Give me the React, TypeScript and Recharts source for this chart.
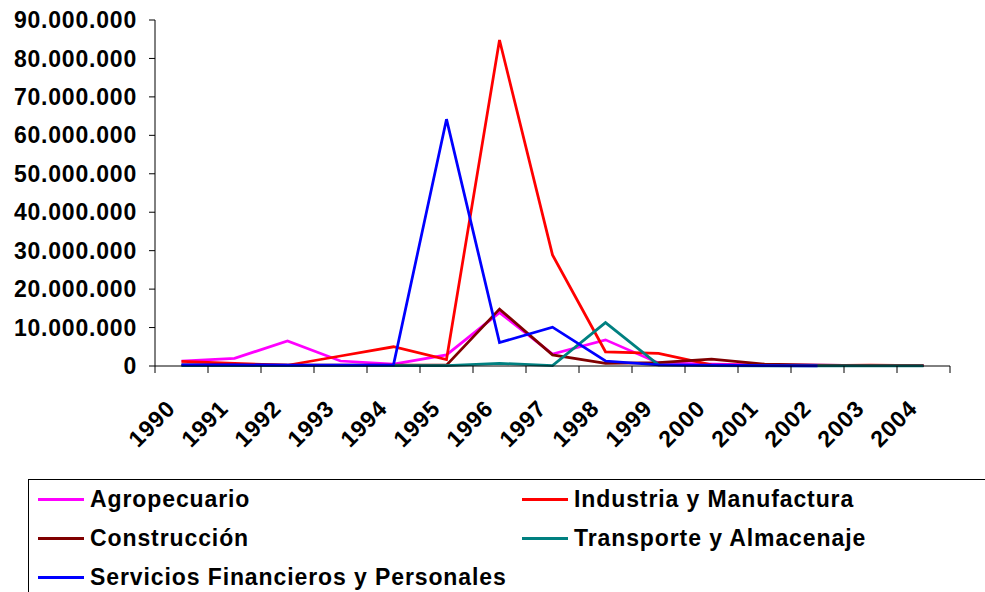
import React from 'react';
import { LineChart, Line, XAxis, YAxis } from 'recharts';

const years = ['1990', '1991', '1992', '1993', '1994', '1995', '1996', '1997', '1998', '1999', '2000', '2001', '2002', '2003', '2004'];

const agropecuario = [1300000, 2000000, 6500000, 1300000, 500000, 2900000, 13900000, 3100000, 6800000, 800000, 500000, 300000, 200000, 100000, 100000];
const industria = [1200000, 700000, 200000, 2600000, 5000000, 1700000, 84800000, 28900000, 3700000, 3300000, 300000, 200000, 100000, 200000, 100000];
const construccion = [300000, 300000, 200000, 200000, 200000, 200000, 14800000, 2900000, 700000, 900000, 1800000, 500000, 200000, 100000, 100000];
const transporte = [100000, 100000, 100000, 100000, 100000, 100000, 700000, 100000, 11300000, 300000, 100000, 50000, 50000, 50000, 50000];
const servicios = [300000, 300000, 200000, 200000, 300000, 64200000, 6100000, 10100000, 1300000, 300000, 200000, 100000, 50000, null, null];

const yTicks = [0, 10000000, 20000000, 30000000, 40000000, 50000000, 60000000, 70000000, 80000000, 90000000];

const series = [
  { key: 'agro', name: 'Agropecuario', color: '#FF00FF', values: agropecuario },
  { key: 'ind', name: 'Industria y Manufactura', color: '#FF0000', values: industria },
  { key: 'cons', name: 'Construcción', color: '#800000', values: construccion },
  { key: 'trans', name: 'Transporte y Almacenaje', color: '#008080', values: transporte },
  { key: 'serv', name: 'Servicios Financieros y Personales', color: '#0000FF', values: servicios },
];

const data = years.map((year, i) => {
  const row: Record<string, string | number | null> = { year };
  series.forEach((s) => {
    row[s.key] = s.values[i];
  });
  return row;
});

const FONT = '"Liberation Sans", Arial, sans-serif';
const TICK_SIZE = 7;
const TICK_MARGIN = 8;

const fmt = (v: number) => String(Math.round(v)).replace(/\B(?=(\d{3})+(?!\d))/g, '.');

// etiqueta de año girada; las marcas van en los bordes de cada categoría
function YearTick(props: any) {
  const { x, y, payload, index, visibleTicksCount } = props;
  const half = payload.offset ?? 26.5;
  const axisY = y - TICK_SIZE - TICK_MARGIN;
  const ax = x - 5;
  const ay = axisY + 44;
  return (
    <g>
      <line x1={x - half} y1={axisY} x2={x - half} y2={axisY + TICK_SIZE} stroke="#000" />
      {index === visibleTicksCount - 1 && (
        <line x1={x + half} y1={axisY} x2={x + half} y2={axisY + TICK_SIZE} stroke="#000" />
      )}
      <text
        x={ax}
        y={ay}
        transform={`rotate(-45 ${ax} ${ay})`}
        textAnchor="end"
        fontFamily={FONT}
        fontWeight="bold"
        fontSize={23}
        letterSpacing={0.8}
        fill="#000"
      >
        {payload.value}
      </text>
    </g>
  );
}

function ChartLegend() {
  return (
    <div
      style={{
        position: 'absolute',
        left: 28,
        top: 479,
        width: 970,
        height: 130,
        border: '1px solid #000',
        boxSizing: 'border-box',
        fontFamily: FONT,
        fontWeight: 'bold',
        fontSize: 23,
        letterSpacing: 0.9,
        color: '#000',
      }}
    >
      {series.map((s, i) => (
        <div
          key={s.key}
          style={{
            position: 'absolute',
            left: i % 2 === 0 ? 9 : 493,
            top: Math.floor(i / 2) * 39 + 5,
            height: 28,
            display: 'flex',
            alignItems: 'center',
            whiteSpace: 'nowrap',
          }}
        >
          <span style={{ display: 'inline-block', width: 46, height: 3, background: s.color, marginRight: 6 }} />
          <span>{s.name}</span>
        </div>
      ))}
    </div>
  );
}

export default function App() {
  return (
    <div style={{ position: 'absolute', left: 0, top: 0, width: 985, height: 592, background: '#fff', overflow: 'hidden' }}>
      <LineChart width={985} height={592} data={data} margin={{ top: 20, right: 35, left: 10, bottom: 126 }}>
        <XAxis
          dataKey="year"
          scale="band"
          interval={0}
          height={100}
          axisLine={{ stroke: '#000' }}
          tickLine={false}
          tickSize={TICK_SIZE}
          tickMargin={TICK_MARGIN}
          tick={<YearTick />}
        />
        <YAxis
          width={145}
          domain={[0, 90000000]}
          ticks={yTicks}
          interval={0}
          axisLine={{ stroke: '#000' }}
          tickLine={{ stroke: '#000' }}
          tickSize={6}
          tickMargin={12}
          tickFormatter={fmt}
          tick={{ fontFamily: FONT, fontWeight: 'bold', fontSize: 23, letterSpacing: 0.8, fill: '#000' }}
        />
        {series.map((s) => (
          <Line
            key={s.key}
            type="linear"
            dataKey={s.key}
            name={s.name}
            stroke={s.color}
            strokeWidth={2.75}
            dot={false}
            activeDot={false}
            isAnimationActive={false}
          />
        ))}
      </LineChart>
      <ChartLegend />
    </div>
  );
}
